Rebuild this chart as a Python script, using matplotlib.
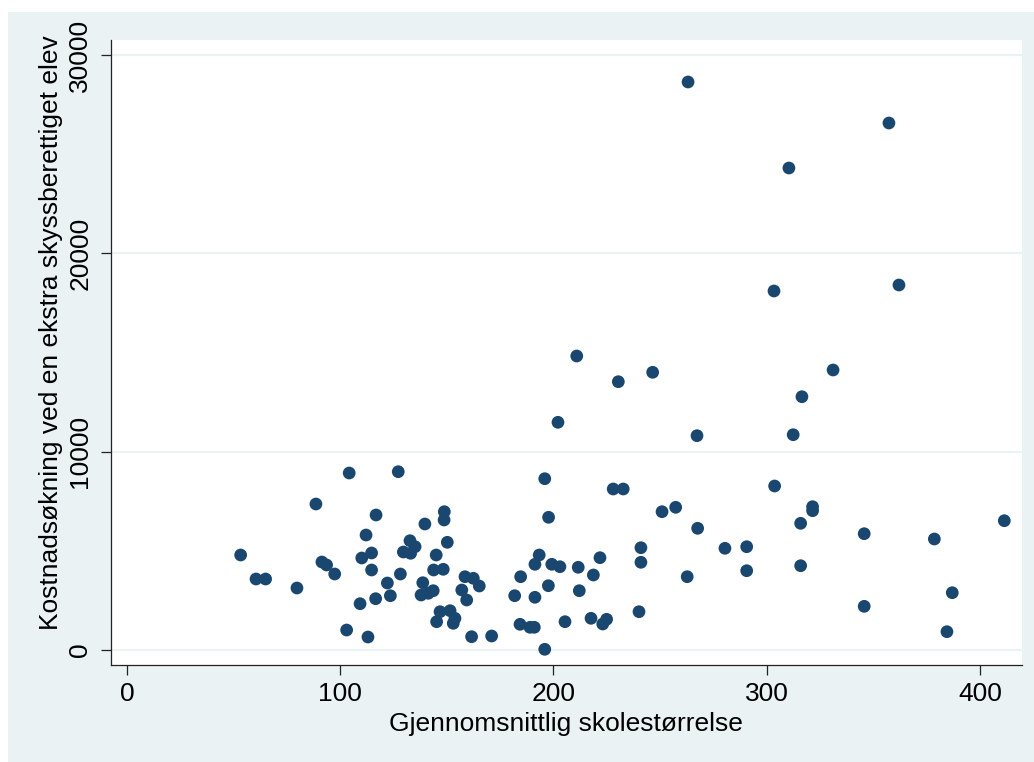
import matplotlib
matplotlib.use("Agg")
import matplotlib.pyplot as plt
from matplotlib.patches import Rectangle

# Average school size
skolestorrelse = [
    53.3, 60.5, 65.0, 79.7, 88.6, 91.4, 93.6, 97.4, 104.2, 103.0,
    109.3, 110.1, 112.1, 114.7, 114.7, 113.0, 116.8, 116.6, 122.1, 123.5,
    127.2, 128.2, 129.6, 132.7, 135.1, 133.0, 139.7, 138.7, 137.9, 141.3,
    143.6, 143.8, 145.0, 145.2, 146.8, 148.8, 148.7, 148.3, 150.2, 151.5,
    153.8, 153.0, 157.0, 158.5, 159.3, 162.4, 165.2, 161.6, 171.0, 181.8,
    184.6, 184.3, 189.0, 191.0, 191.3, 191.3, 193.3, 195.9, 195.9, 197.7,
    197.6, 199.2, 202.1, 203.0, 205.4, 210.9, 211.6, 212.1, 217.6, 218.7,
    221.8, 223.1, 224.9, 230.4, 228.0, 232.7, 240.1, 241.0, 241.0, 246.5,
    250.9, 257.3, 263.1, 262.7, 267.3, 267.6, 280.4, 290.6, 290.6, 303.4,
    303.7, 310.4, 312.4, 316.5, 315.9, 315.9, 321.5, 321.5, 331.1, 345.7,
    345.7, 357.3, 362.0, 378.6, 384.5, 387.0, 411.4,
]
# Cost increase per extra pupil entitled to school transport
kostnadsokning = [
    4790, 3580, 3580, 3126, 7361, 4437, 4286, 3832, 8924, 1008,
    2334, 4639, 5798, 4891, 4034, 655, 6807, 2587, 3378, 2738,
    8990, 3832, 4941, 5511, 5208, 4876, 6353, 3393, 2773, 2859,
    2990, 4034, 4790, 1427, 1931, 6973, 6555, 4069, 5430, 1982,
    1598, 1346, 3025, 3696, 2521, 3615, 3227, 671, 706, 2738,
    3696, 1296, 1145, 1145, 2657, 4321, 4790, 8637, 35, 6691,
    3242, 4321, 11481, 4200, 1427, 14823, 4170, 2990, 1598, 3782,
    4654, 1311, 1548, 13528, 8118, 8118, 1931, 5158, 4422, 14002,
    6973, 7195, 28639, 3696, 10805, 6136, 5128, 5208, 3998, 18101,
    8269, 24302, 10855, 12771, 6388, 4250, 7225, 7024, 14118, 5864,
    2203, 26571, 18403, 5597, 923, 2889, 6519,
]
x_ticks = [0, 100, 200, 300, 400]
y_ticks = [0, 10000, 20000, 30000]
x_title = "Gjennomsnittlig skolestørrelse"
y_title = "Kostnadsøkning ved en ekstra skyssberettiget elev"

BG = "#EAF2F3"
MARK = "#1A476F"
W, H = 1034, 762

plt.rcParams["font.family"] = ["Liberation Sans", "DejaVu Sans"]

fig = plt.figure(figsize=(W / 100, H / 100), dpi=100, facecolor="white")
fig.patches.append(Rectangle((8 / W, 0), 1 - 8 / W, 1 - 12 / H,
                             transform=fig.transFigure, facecolor=BG,
                             edgecolor="none", zorder=-10))

ax = fig.add_axes([111 / W, 1 - 665 / H, (1022 - 111) / W, (665 - 40) / H])
ax.set_facecolor("white")
ax.set_xlim(-7.5, 419.7)
ax.set_ylim(-756, 30756)

for v in y_ticks:
    ax.axhline(v, color=BG, lw=1.6, zorder=1)

ax.scatter(skolestorrelse, kostnadsokning, s=84, color=MARK,
           edgecolors="none", zorder=3)

for side in ("top", "right"):
    ax.spines[side].set_visible(False)
for side in ("left", "bottom"):
    ax.spines[side].set_color("#222222")
    ax.spines[side].set_linewidth(0.9)

ax.set_xticks(x_ticks)
ax.set_xticklabels([str(t) for t in x_ticks])
ax.set_yticks(y_ticks)
ax.set_yticklabels([str(t) for t in y_ticks], rotation=90, va="center")
ax.tick_params(axis="both", direction="out", length=7.5, width=0.9,
               color="#222222", labelsize=19, labelcolor="black")
ax.tick_params(axis="x", pad=5)
ax.tick_params(axis="y", pad=6)

fig.text(566 / W, 1 - 724 / H, x_title, ha="center", va="center",
         fontsize=19, color="black")
fig.text(51 / W, 1 - 333 / H, y_title, ha="center", va="center",
         rotation=90, fontsize=19, color="black")

fig.savefig("out.png", dpi=100, facecolor=fig.get_facecolor())
